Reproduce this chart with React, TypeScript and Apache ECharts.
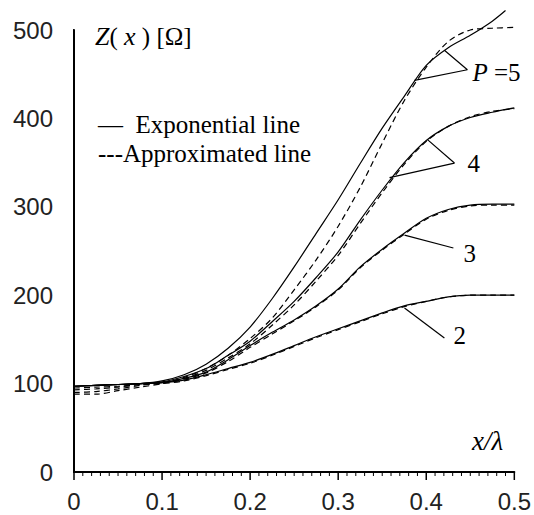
import React, { useEffect, useRef } from "react";
import * as echarts from "echarts";

// x positions (x/λ)
const xs = [0, 0.025, 0.05, 0.075, 0.1, 0.125, 0.15, 0.175, 0.2, 0.225, 0.25, 0.275, 0.3, 0.325, 0.35, 0.375, 0.4, 0.425, 0.45, 0.475, 0.5];
const xsExp5 = [0, 0.025, 0.05, 0.075, 0.1, 0.125, 0.15, 0.175, 0.2, 0.225, 0.25, 0.275, 0.3, 0.325, 0.35, 0.375, 0.4, 0.425, 0.45, 0.475, 0.49];

// Exponential lines (solid)
const exp5 = [97, 98, 99, 100, 103, 110, 122, 140, 164, 196, 232, 270, 308, 349, 389, 425, 460, 480, 494, 510, 522];
const exp4 = [97, 98, 99, 100, 102, 108, 117, 132, 148, 170, 193, 220, 249, 285, 319, 350, 375, 391, 401, 407, 412];
const exp3 = [97, 98, 99, 100, 101, 106, 113, 127, 143, 158, 172, 188, 207, 232, 252, 270, 287, 297, 302, 303, 303];
const exp2 = [97, 98, 99, 100, 101, 104, 110, 117, 124, 133, 143, 153, 162, 171, 180, 188, 193, 198, 200, 200, 200];

// Approximated lines (dashed)
const app5 = [88, 88, 92, 96, 100, 107, 117, 132, 151, 174, 206, 240, 278, 322, 372, 420, 458, 487, 500, 502, 503];
const app4 = [90, 91, 94, 98, 101, 106, 115, 129, 145, 166, 189, 216, 245, 281, 316, 348, 374, 391, 402, 408, 411];
const app3 = [93, 94, 96, 99, 101, 105, 112, 125, 141, 156, 171, 187, 206, 231, 251, 269, 286, 296, 301, 302, 302];
const app2 = [95, 96, 97, 99, 100, 103, 109, 116, 123, 132, 142, 152, 161, 170, 179, 187, 193, 198, 200, 200, 200];

// tick labels
const xTickLabels = ["0", "0.1", "0.2", "0.3", "0.4", "0.5"];
const yTickLabels = ["0", "100", "200", "300", "400", "500"];
const xMajorStep = 0.1;
const yMajorStep = 100;
const minorDivisions = 10;

// leader lines (data coords)
const leader5 = [[0.4206, 477], [0.4467, 455], [0.3866, 443]];
const leader4 = [[0.4014, 376], [0.432, 349.5], [0.3583, 333]];
const leader3 = [[0.3753, 268], [0.4308, 253.4]];
const leader2 = [[0.3753, 185.5], [0.4206, 151.6]];

// curve labels (left-middle anchor, data coords)
const curveLabels = ["{i|P} =5", "4", "3", "2"];
const curveLabelPos = [[0.4524, 452], [0.4467, 349.5], [0.4422, 247], [0.4308, 154]];

const zip = (x: number[], y: number[]) => x.map((v, i) => [v, y[i]]);

export default function App() {
  const ref = useRef<HTMLDivElement>(null);
  useEffect(() => {
    document.body.style.margin = "0";
    const chart = echarts.init(ref.current!, null, { renderer: "svg" });
    const serif = "Liberation Serif";
    const solid = (name: string, data: number[][]) => ({
      name,
      type: "line",
      data,
      symbol: "none",
      smooth: 0.3,
      clip: false,
      lineStyle: { color: "#000", width: 1.2 },
    });
    const dashed = (name: string, data: number[][]) => ({
      name,
      type: "line",
      data,
      symbol: "none",
      smooth: 0.3,
      clip: false,
      lineStyle: { color: "#000", width: 1.2, type: [6, 4] },
    });
    const leader = (name: string, data: number[][]) => ({
      name,
      type: "line",
      data,
      symbol: "none",
      smooth: false,
      clip: false,
      lineStyle: { color: "#000", width: 1.2 },
    });

    const grid = { left: 74, right: 19, top: 30, bottom: 43 };
    const plotW = 534 - grid.left - grid.right;
    const plotH = 515 - grid.top - grid.bottom;
    const xPerPx = (xMajorStep * (xTickLabels.length - 1)) / plotW;
    const yPerPx = (yMajorStep * (yTickLabels.length - 1)) / plotH;

    // tick marks as broken line segments, placed through the axes' scales
    const mkTicks = (horizontal: boolean, major: boolean, lenPx: number) => {
      const pts: (number[] | null)[] = [];
      const n = (xTickLabels.length - 1) * minorDivisions;
      for (let i = 0; i <= n; i++) {
        const isMajor = i % minorDivisions === 0;
        if (isMajor !== major) continue;
        if (horizontal) {
          const v = (i * xMajorStep) / minorDivisions;
          pts.push([v, 0], [v, -lenPx * yPerPx], null);
        } else {
          const v = (i * yMajorStep) / minorDivisions;
          pts.push([0, v], [-lenPx * xPerPx, v], null);
        }
      }
      return pts;
    };
    const tickSeries = (name: string, data: any[], width: number) => ({
      name,
      type: "line",
      data,
      symbol: "none",
      smooth: false,
      clip: false,
      connectNulls: false,
      silent: true,
      lineStyle: { color: "#000", width },
    });

    chart.setOption({
      animation: false,
      grid,
      xAxis: {
        type: "value",
        min: 0,
        max: 0.5,
        interval: xMajorStep,
        axisLine: { show: true, lineStyle: { color: "#000", width: 2 } },
        splitLine: { show: false },
        axisTick: { show: false },
        axisLabel: {
          fontFamily: "Liberation Sans",
          fontSize: 24,
          color: "#222",
          margin: 17,
          formatter: (v: number) => xTickLabels[Math.round(v / xMajorStep)] ?? "",
        },
      },
      yAxis: {
        type: "value",
        min: 0,
        max: 500,
        interval: yMajorStep,
        axisLine: { show: true, lineStyle: { color: "#000", width: 2 } },
        splitLine: { show: false },
        axisTick: { show: false },
        axisLabel: {
          fontFamily: "Liberation Sans",
          fontSize: 24,
          color: "#222",
          margin: 21,
          formatter: (v: number) => yTickLabels[Math.round(v / yMajorStep)] ?? "",
        },
      },
      series: [
        solid("exp5", zip(xsExp5, exp5)),
        solid("exp4", zip(xs, exp4)),
        solid("exp3", zip(xs, exp3)),
        solid("exp2", zip(xs, exp2)),
        dashed("app5", zip(xs, app5)),
        dashed("app4", zip(xs, app4)),
        dashed("app3", zip(xs, app3)),
        dashed("app2", zip(xs, app2)),
        leader("l5", leader5),
        leader("l4", leader4),
        leader("l3", leader3),
        leader("l2", leader2),
        tickSeries("xMajorTicks", mkTicks(true, true, 8), 1.5),
        tickSeries("xMinorTicks", mkTicks(true, false, 4), 1),
        tickSeries("yMajorTicks", mkTicks(false, true, 6), 1.5),
        tickSeries("yMinorTicks", mkTicks(false, false, 3.5), 1),
      ],
    });

    const labelGraphics = curveLabels.map((t, i) => {
      const p = chart.convertToPixel({ gridIndex: 0 }, curveLabelPos[i]) as number[];
      return {
        type: "text",
        x: p[0],
        y: p[1],
        style: {
          text: t,
          fontFamily: serif,
          fontSize: 25,
          fill: "#000",
          align: "left",
          verticalAlign: "middle",
          rich: { i: { fontStyle: "italic", fontFamily: serif, fontSize: 25, fill: "#000" } },
        },
      };
    });

    chart.setOption({
      graphic: [
        {
          type: "text",
          x: 95,
          y: 36,
          style: {
            text: "{i|Z}( {i|x} ) [Ω]",
            fontFamily: serif,
            fontSize: 25,
            fill: "#000",
            align: "left",
            verticalAlign: "middle",
            rich: { i: { fontStyle: "italic", fontFamily: serif, fontSize: 26 } },
          },
        },
        {
          type: "text",
          x: 472,
          y: 441,
          style: {
            text: "x/λ",
            fontFamily: serif,
            fontStyle: "italic",
            fontSize: 27,
            fill: "#000",
            align: "left",
            verticalAlign: "middle",
          },
        },
        {
          type: "text",
          x: 98,
          y: 124,
          style: {
            text: "—  Exponential line",
            fontFamily: serif,
            fontSize: 25,
            fill: "#000",
            align: "left",
            verticalAlign: "middle",
          },
        },
        {
          type: "text",
          x: 98,
          y: 153,
          style: {
            text: "---Approximated line",
            fontFamily: serif,
            fontSize: 25,
            fill: "#000",
            align: "left",
            verticalAlign: "middle",
          },
        },
        ...labelGraphics,
      ],
    });
    return () => chart.dispose();
  }, []);
  return <div ref={ref} style={{ width: 534, height: 515 }} />;
}
